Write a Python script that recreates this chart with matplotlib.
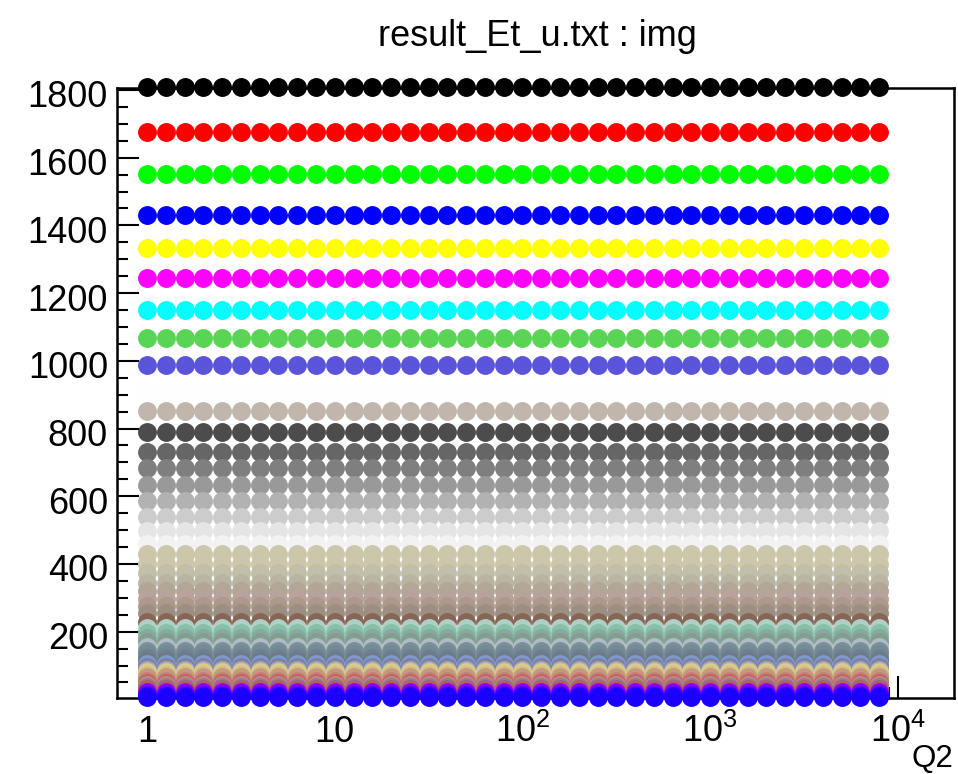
import matplotlib
matplotlib.use("Agg")
import matplotlib.pyplot as plt
from matplotlib.ticker import FixedLocator, MultipleLocator, NullFormatter
from matplotlib.transforms import ScaledTranslation

plt.rcParams['font.family'] = ['Liberation Sans', 'DejaVu Sans']
plt.rcParams['mathtext.fontset'] = 'custom'
plt.rcParams['mathtext.rm'] = 'Liberation Sans'
plt.rcParams['mathtext.it'] = 'Liberation Sans:italic'

# Q2 points (same for every graph)
q2 = [1.0, 1.259, 1.585, 1.995, 2.512, 3.162, 3.981, 5.012, 6.310, 7.943,
      10.0, 12.59, 15.85, 19.95, 25.12, 31.62, 39.81, 50.12, 63.10, 79.43,
      100.0, 125.9, 158.5, 199.5, 251.2, 316.2, 398.1, 501.2, 631.0, 794.3,
      1000, 1259, 1585, 1995, 2512, 3162, 3981, 5012, 6310, 7943]

# level of each graph (flat in Q2), read from top row to bottom row
levels = [1808, 1677, 1551, 1431, 1334, 1245, 1150, 1066, 988, 915,
          852, 790, 732, 682, 634, 585, 540, 496, 460, 430,
          400, 372, 345, 320, 297, 275, 255, 228, 212, 196,
          182, 168, 156, 144, 133, 123, 113, 104, 96, 88,
          80, 73, 66, 60, 54, 47, 41, 36, 31, 26,
          21, 17, 14, 11, 9, 8]

# marker colours, ROOT colour index 1..56
colors = ['#000000', '#ff0000', '#00ff00', '#0000ff', '#ffff00', '#ff00ff', '#00ffff', '#59d454', '#5954d9', '#fefefe',
          '#c0b6ac', '#4c4c4c', '#666666', '#7f7f7f', '#999999', '#b2b2b2', '#cccccc', '#e5e5e5', '#f2f2f2', '#ccc7ab',
          '#ccc7ab', '#c2bfa8', '#bab5a3', '#b2a696', '#b7a39c', '#ad998c', '#9c8f82', '#876657', '#b0cfc7', '#85c2a3',
          '#8aa8a1', '#829e8c', '#adbdc7', '#7a8f99', '#758a91', '#698296', '#6e7a85', '#7d99d1', '#80809c', '#aba6bf',
          '#d4cf87', '#deba87', '#bd9e82', '#c79978', '#bf8278', '#cf5e61', '#ab8f94', '#a67878', '#946970', '#d45954',
          '#9200ff', '#7a00ff', '#6300ff', '#4b00ff', '#3300ff', '#1b00ff']

fig = plt.figure(figsize=(9.58, 7.74), dpi=100)
ax = fig.add_axes([117/958, 1-698/774, (954-117)/958, (698-88.3)/774])

for i in range(len(levels)):
    ax.plot(q2, [levels[i]]*len(q2), 'o', color=colors[i], markersize=13.6,
            markeredgewidth=0, clip_on=False, zorder=3+i*0.01)

ax.set_xscale('log')
ax.set_xlim(0.692, 19900)
ax.set_ylim(4, 1805)

ax.xaxis.set_major_locator(FixedLocator([1, 10, 100, 1000, 10000]))
ax.set_xticklabels(['1', '10', '$10^{2}$', '$10^{3}$', '$10^{4}$'])
ax.xaxis.set_minor_locator(FixedLocator([m*10**d for d in range(0, 5) for m in range(2, 10)]))
ax.xaxis.set_minor_formatter(NullFormatter())
ax.yaxis.set_major_locator(FixedLocator([200, 400, 600, 800, 1000, 1200, 1400, 1600, 1800]))
ax.yaxis.set_minor_locator(MultipleLocator(50))

ax.tick_params(which='both', direction='in', top=False, right=False, width=1.5, labelsize=26)
ax.tick_params(which='major', length=16)
ax.tick_params(which='minor', length=8)
ax.tick_params(axis='y', pad=6.5)
ax.tick_params(axis='x', pad=32)
for lab in ax.get_xticklabels():
    lab.set_verticalalignment('baseline')
# ROOT puts the y labels a little below the tick
for lab in ax.get_yticklabels():
    lab.set_transform(lab.get_transform() + ScaledTranslation(0, -0.04, fig.dpi_scale_trans))

for s in ax.spines.values():
    s.set_linewidth(1.8)

fig.text(537/958, 1-36/774, 'result_Et_u.txt : img', ha='center', va='center', fontsize=26)
fig.text(953/958, 1-767/774, 'Q2', ha='right', va='baseline', fontsize=22.5)

fig.savefig('out.png', dpi=100)
